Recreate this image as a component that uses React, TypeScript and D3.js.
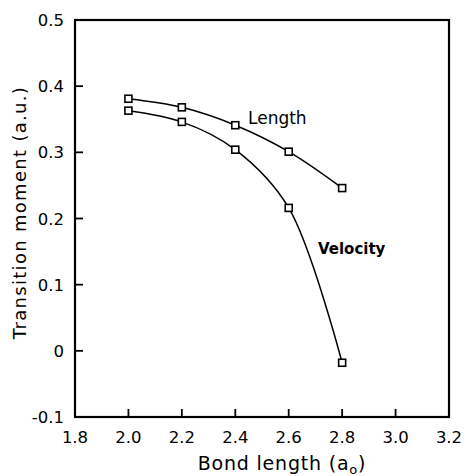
import React from "react";
import * as d3 from "d3";

const bondLengths = [2.0, 2.2, 2.4, 2.6, 2.8];
const lengthValues = [0.381, 0.368, 0.341, 0.301, 0.246];
const velocityValues = [0.363, 0.346, 0.304, 0.216, -0.018];
const xTicks = [1.8, 2.0, 2.2, 2.4, 2.6, 2.8, 3.0, 3.2];
const yTicks = [-0.1, 0, 0.1, 0.2, 0.3, 0.4, 0.5];
const yTickLabels = ["-0.1", "0", "0.1", "0.2", "0.3", "0.4", "0.5"];

const W = 467, H = 476;
const L = 75, R = 449, T = 20, B = 417;
const font = "'DejaVu Sans', Verdana, sans-serif";

export default function App() {
  const x = d3.scaleLinear().domain([1.8, 3.2]).range([L, R]);
  const y = d3.scaleLinear().domain([-0.1, 0.5]).range([B, T]);
  const line = d3
    .line<number>()
    .x((_, i) => x(bondLengths[i]))
    .y((d) => y(d))
    .curve(d3.curveCatmullRom.alpha(0.5));
  const series = [lengthValues, velocityValues];
  return (
    <svg width={W} height={H} style={{ position: "absolute", left: 0, top: 0, background: "#fff" }}>
      <rect x={L} y={T} width={R - L} height={B - T} fill="none" stroke="#000" strokeWidth={2.2} />
      {xTicks.map((t) => (
        <g key={"x" + t}>
          <line x1={x(t)} x2={x(t)} y1={B} y2={B - 8} stroke="#000" strokeWidth={1.8} />
          <text x={x(t)} y={B + 26} textAnchor="middle" fontFamily={font} fontSize={16.5}>
            {t.toFixed(1)}
          </text>
        </g>
      ))}
      {yTicks.map((t, i) => (
        <g key={"y" + t}>
          <line x1={L} x2={L + 8} y1={y(t)} y2={y(t)} stroke="#000" strokeWidth={1.8} />
          <text x={L - 11} y={y(t) + 6} textAnchor="end" fontFamily={font} fontSize={16.5}>
            {yTickLabels[i]}
          </text>
        </g>
      ))}
      {series.map((s, k) => (
        <g key={"s" + k}>
          <path d={line(s) || ""} fill="none" stroke="#000" strokeWidth={1.5} />
          {s.map((v, i) => (
            <rect
              key={i}
              x={x(bondLengths[i]) - 3.5}
              y={y(v) - 3.5}
              width={7}
              height={7}
              fill="#fff"
              stroke="#000"
              strokeWidth={1.6}
            />
          ))}
        </g>
      ))}
      <text x={248} y={124} fontFamily={font} fontSize={17}>Length</text>
      <text x={318} y={254} fontFamily={font} fontSize={15} fontWeight="bold">Velocity</text>
      <text x={282} y={470} textAnchor="middle" fontFamily={font} fontSize={19} letterSpacing={0.8}>
        Bond length (a<tspan fontSize={13} dy={4}>o</tspan><tspan dy={-4}>)</tspan>
      </text>
      <text
        transform={`translate(26,${(T + B) / 2 - 6}) rotate(-90)`}
        textAnchor="middle"
        fontFamily={font}
        fontSize={18}
        letterSpacing={1.3}
      >
        Transition moment (a.u.)
      </text>
    </svg>
  );
}
